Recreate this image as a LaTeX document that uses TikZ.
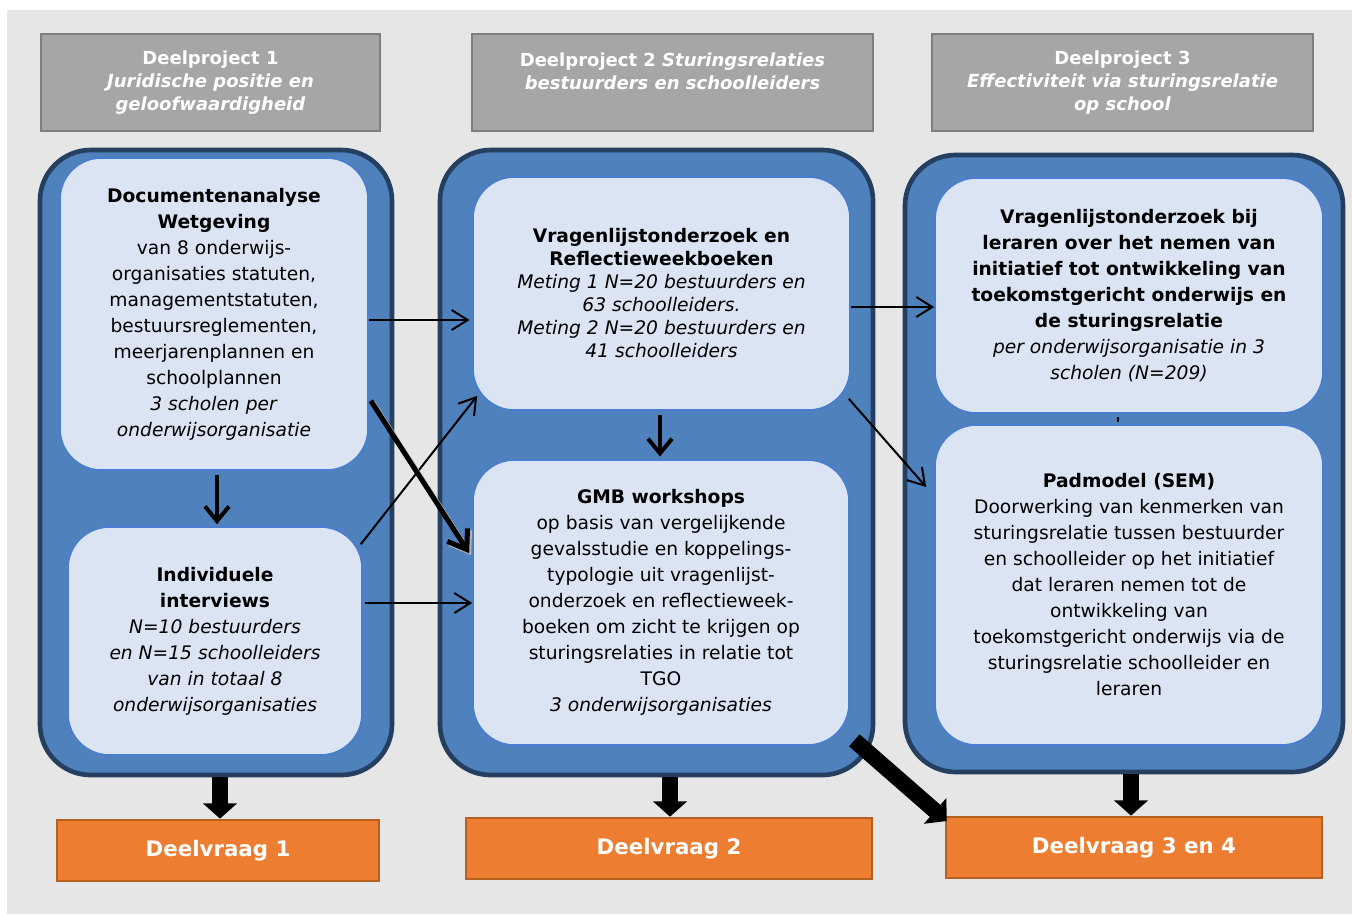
\documentclass[tikz,border=0pt]{standalone}
\usepackage{fontspec}
\setmainfont{DejaVu Sans}
\usetikzlibrary{arrows.meta}

\definecolor{achtergrond}{HTML}{E6E6E6}
\definecolor{kopgrijs}{HTML}{A6A6A6}
\definecolor{koprand}{HTML}{7F7F7F}
\definecolor{blokblauw}{HTML}{4F81BD}
\definecolor{blokrand}{HTML}{243F60}
\definecolor{vakvul}{HTML}{DBE4F3}
\definecolor{vakrand}{HTML}{4A7DD0}
\definecolor{oranje}{HTML}{ED7D31}
\definecolor{oranjerand}{HTML}{B4601F}

\newcommand{\vaktekst}{\fontsize{14}{19.5}\selectfont}
\newcommand{\koptekst}{\fontsize{13.5}{17.25}\selectfont\bfseries}

\begin{document}
\begin{tikzpicture}[
  x=0.75pt, y=-0.75pt,
  kop/.style={draw=koprand, line width=2pt, fill=kopgrijs, text=white, font=\koptekst, align=center, inner sep=0pt, minimum height=72.75pt},
  blok/.style={draw=blokrand, line width=3.5pt, fill=blokblauw, rounded corners=38pt, inner sep=0pt},
  vak/.style={draw=vakrand, line width=1.2pt, fill=vakvul, rounded corners=31pt, font=\vaktekst, align=center, inner sep=0pt},
  vraag/.style={draw=oranjerand, line width=2pt, fill=oranje, text=white, font=\fontsize{16}{19}\selectfont\bfseries, minimum height=45.75pt, inner sep=0pt},
  pijl/.style={line width=1.5pt, -{Straight Barb[length=12pt,width=15pt]}},
  dikpijl/.style={line width=3.75pt, -{Straight Barb[length=13pt,width=18pt]}},
  omlaag/.style={line width=3pt, -{Straight Barb[length=11pt,width=18pt]}},
  blokpijl/.style={line width=12pt, -{Triangle[length=11.5pt,width=25pt]}},
  schaduw/.style={draw=black!30, transform canvas={xshift=1.5pt,yshift=-1.5pt}}
]
  \useasboundingbox (0,0) rectangle (1352,914);
  \fill[achtergrond] (7,10) rectangle (1352,914);

  % koppen
  \node[kop, minimum width=254.25pt] (dp1) at (210.5,82.5) {Deelproject 1\\\textit{Juridische positie en}\\\textit{geloofwaardigheid}};
  \node[kop, minimum width=300.75pt] (dp2) at (672.5,82.5) {Deelproject 2 \textit{Sturingsrelaties}\\\textit{bestuurders en schoolleiders}\\~};
  \node[kop, minimum width=285.75pt] (dp3) at (1122.5,82.5) {Deelproject 3\\\textit{Effectiviteit via sturingsrelatie}\\\textit{op school}};

  % blokken
  \node[blok, minimum width=264pt, minimum height=468.75pt] (c1) at (216,462.5) {};
  \node[blok, minimum width=324.75pt, minimum height=468.75pt] (c2) at (656.5,462.5) {};
  \node[blok, minimum width=328.5pt, minimum height=462.75pt] (c3) at (1124,463.5) {};

  % deelproject 1
  \node[vak, minimum width=231pt, minimum height=234pt] (b1) at (214,314) {\textbf{Documentenanalyse}\\\textbf{Wetgeving}\\van 8 onderwijs-\\organisaties statuten,\\managementstatuten,\\bestuursreglementen,\\meerjarenplannen en\\schoolplannen\\\textit{3 scholen per}\\\textit{onderwijsorganisatie}};
  \node[vak, minimum width=220.5pt, minimum height=171pt] (b2) at (215,641) {\textbf{Individuele}\\\textbf{interviews}\\\textit{N=10 bestuurders}\\\textit{en N=15 schoolleiders}\\\textit{van in totaal 8}\\\textit{onderwijsorganisaties}};

  % deelproject 2
  \node[vak, font=\fontsize{14}{17.25}\selectfont, minimum width=282.75pt, minimum height=174.75pt] (b3) at (661.5,293.5) {\textbf{Vragenlijstonderzoek en}\\\textbf{Reflectieweekboeken}\\\textit{Meting 1 N=20 bestuurders en}\\\textit{63 schoolleiders.}\\\textit{Meting 2 N=20 bestuurders en}\\\textit{41 schoolleiders}};
  \node[vak, minimum width=282pt, minimum height=213.75pt] (b4) at (661,602.5) {\textbf{GMB workshops}\\op basis van vergelijkende\\gevalsstudie en koppelings-\\typologie uit vragenlijst-\\onderzoek en reflectieweek-\\boeken om zicht te krijgen op\\sturingsrelaties in relatie tot\\TGO\\\textit{3 onderwijsorganisaties}};

  % deelproject 3
  \node[vak, minimum width=291pt, minimum height=176.25pt] (b5) at (1129,295.5) {\textbf{Vragenlijstonderzoek bij}\\\textbf{leraren over het nemen van}\\\textbf{initiatief tot ontwikkeling van}\\\textbf{toekomstgericht onderwijs en}\\\textbf{de sturingsrelatie}\\\textit{per onderwijsorganisatie in 3}\\\textit{scholen (N=209)}};
  \node[vak, minimum width=291pt, minimum height=240pt] (b6) at (1129,585) {\textbf{Padmodel (SEM)}\\Doorwerking van kenmerken van\\sturingsrelatie tussen bestuurder\\en schoolleider op het initiatief\\dat leraren nemen tot de\\ontwikkeling van\\toekomstgericht onderwijs via de\\sturingsrelatie schoolleider en\\leraren};

  % deelvragen
  \node[vraag, minimum width=241.5pt] (o1) at (218,850.5) {Deelvraag 1};
  \node[vraag, minimum width=304.5pt] (o2) at (669,848.5) {Deelvraag 2};
  \node[vraag, minimum width=282pt] (o3) at (1134,847.5) {Deelvraag 3 en 4};

  % pijlen
  \draw[pijl, shorten >=2pt] (b1.east |- 0,320) -- (b3.west |- 0,320);
  \draw[pijl] ([xshift=-1.5pt,yshift=-13.5pt]b2.north east) -- ([xshift=3.75pt,yshift=11.25pt]b3.south west);
  \draw[pijl, shorten <=2pt] (b2.east |- 0,603) -- (b4.west |- 0,603);
  \draw[pijl] (b3.east |- 0,307) -- (b5.west |- 0,307);
  \draw[pijl] ([xshift=-1.5pt,yshift=9pt]b3.south east) -- ([xshift=-6pt,yshift=73.5pt]b6.west);
  \draw[dikpijl, schaduw] ([xshift=1.5pt,yshift=52.5pt]b1.south east) -- ([xshift=-2.25pt,yshift=37pt]b4.west);
  \draw[dikpijl] ([xshift=1.5pt,yshift=52.5pt]b1.south east) -- ([xshift=-2.25pt,yshift=37pt]b4.west);
  \draw[omlaag, shorten <=3pt, shorten >=1.5pt] (b1.south -| 217,0) -- (b2.north -| 217,0);
  \draw[omlaag, shorten <=3pt, shorten >=2pt] (b3.south -| 660,0) -- (b4.north -| 660,0);
  \draw[line width=2pt] ([xshift=-8.25pt,yshift=-2.25pt]b5.south) -- ([xshift=-8.25pt,yshift=1.5pt]b6.north);

  % naar deelvragen
  \draw[blokpijl] (c1.south -| 220,0) -- (o1.north -| 220,0);
  \draw[blokpijl] (c2.south -| 670,0) -- (o2.north -| 670,0);
  \draw[blokpijl] (c3.south -| 1131,0) -- (o3.north -| 1131,0);
  \draw[blokpijl] ([xshift=-15.75pt,yshift=27.75pt]c2.south east) -- ([xshift=1.5pt,yshift=-4pt]o3.north west);
\end{tikzpicture}
\end{document}
